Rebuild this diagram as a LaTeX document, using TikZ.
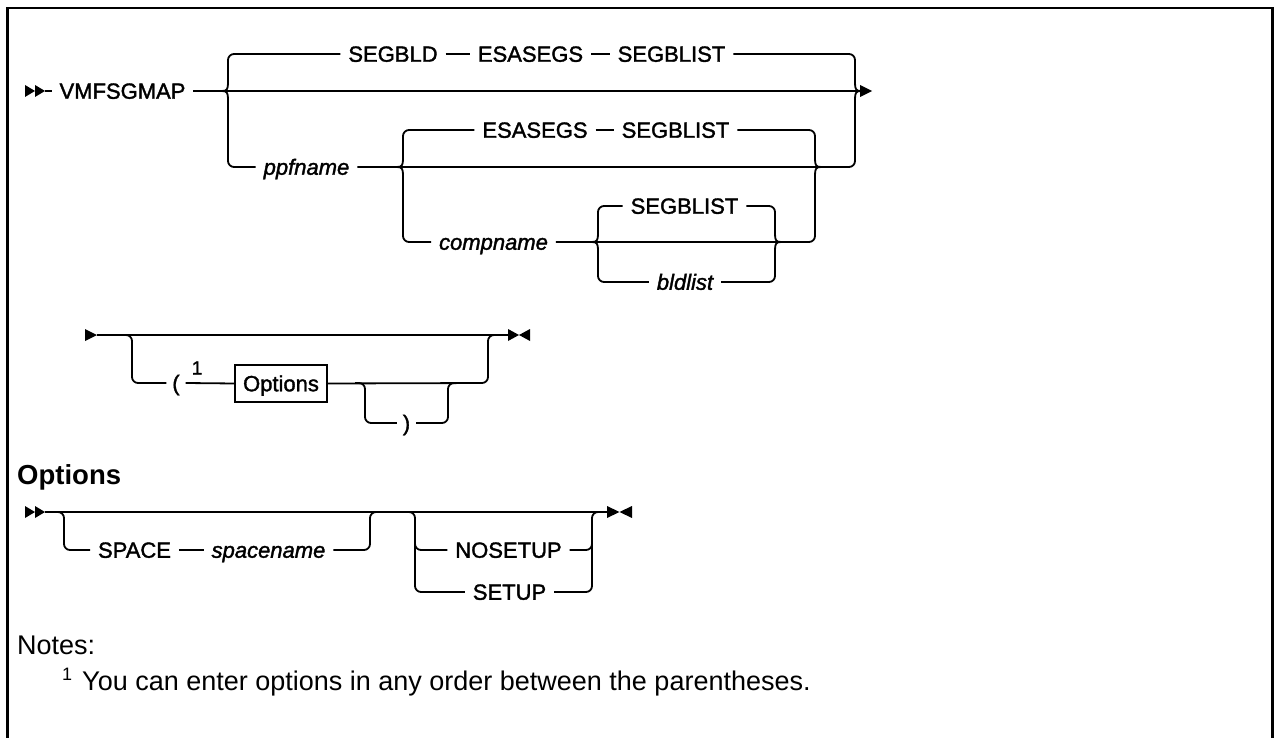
\documentclass[tikz,border=0pt]{standalone}
\usepackage{fontspec}
\setmainfont{Liberation Sans}
\newfontfamily\sdlab{Liberation Sans}[FakeBold=1.6]
\newcommand{\sdforkL}[2]{\draw[line width=1.8pt] (#1,#2-8) .. controls (#1,#2-2) and (#1-1,#2) .. (#1-6,#2) .. controls (#1-1,#2) and (#1,#2+2) .. (#1,#2+8);}
\newcommand{\sdforkR}[2]{\draw[line width=1.8pt] (#1,#2-8) .. controls (#1,#2-2) and (#1+1,#2) .. (#1+6,#2) .. controls (#1+1,#2) and (#1,#2+2) .. (#1,#2+8);}
\tikzset{
  ln/.style={line width=1.8pt, rounded corners=6pt},
  lbl/.style={font=\sdlab\fontsize{22}{25}\selectfont, inner xsep=8pt, inner ysep=0pt, outer sep=0pt, text height=15.5pt, text depth=0pt},
  ital/.style={font=\sdlab\fontsize{22}{25}\selectfont\itshape},
  par/.style={lbl, inner xsep=6pt},
  optbox/.style={draw, line width=1.8pt, minimum width=92pt, minimum height=37pt, inner sep=0pt, outer sep=0pt, font=\sdlab\fontsize{22}{25}\selectfont, text height=15.5pt, text depth=0pt},
  body/.style={font=\fontsize{27}{30}\selectfont, inner sep=0pt, anchor=base west}
}
\begin{document}
\begin{tikzpicture}[x=1pt, y=-1pt]
\useasboundingbox (0,0) rectangle (1274,738);
% frame
\draw[line width=2.5pt] (7.5,738) -- (7.5,8) -- (1272.5,8) -- (1272.5,738);

% ---------- row 1 ----------
\node[lbl] (vmf) at (122.5,91) {VMFSGMAP};
\node[lbl] (segbld) at (393,54) {SEGBLD};
\node[lbl] (esa1) at (530.5,54) {ESASEGS};
\node[lbl] (segbl1) at (671.5,54) {SEGBLIST};
\node[lbl,ital] (ppf) at (306.5,167) {ppfname};
\node[lbl] (esa2) at (535,130) {ESASEGS};
\node[lbl] (segbl2) at (675.5,130) {SEGBLIST};
\node[lbl,ital] (comp) at (493.5,242) {compname};
\node[lbl] (segbl3) at (684.5,206) {SEGBLIST};
\node[lbl,ital] (bld) at (685,282) {bldlist};

\fill (25,85) -- (35,91) -- (25,97) -- cycle;
\fill (35,85) -- (45,91) -- (35,97) -- cycle;
\draw[ln] (45,91) -- (vmf.west);
\draw[ln] (vmf.east) -- (862,91);
\fill (860,85) -- (872,91) -- (860,97) -- cycle;

% L1 / R1
\draw[ln] (228,83) |- (segbld.west);
\draw[ln] (228,99) |- (ppf.west);
\sdforkL{228}{91}
\draw[ln] (segbld.east) -- (esa1.west);
\draw[ln] (esa1.east) -- (segbl1.west);
\draw[ln] (segbl1.east) -| (855,83);
\draw[ln] (ppf.east) -| (855,99);
\sdforkR{855}{91}

% L2 / R2
\draw[ln] (403,159) |- (esa2.west);
\draw[ln] (403,175) |- (comp.west);
\sdforkL{403}{167}
\draw[ln] (esa2.east) -- (segbl2.west);
\draw[ln] (segbl2.east) -| (815,159);
\draw[ln] (comp.east) -| (815,175);
\sdforkR{815}{167}

% L3 / R3
\draw[ln] (598,234) |- (segbl3.west);
\draw[ln] (598,250) |- (bld.west);
\sdforkL{598}{242}
\draw[ln] (segbl3.east) -| (775,234);
\draw[ln] (bld.east) -| (775,250);
\sdforkR{775}{242}

% ---------- row 2 ----------
\node[par] (lp) at (176,383) {(};
\node[font=\sdlab\fontsize{19}{21}\selectfont, inner sep=0pt] (sup1) at (197,368) {1};
\node[optbox] (optb) at (281,383.5) {Options};
\node[par] (rp) at (406.5,423) {)};

\fill (85,329) -- (97,335) -- (85,341) -- cycle;
\draw[ln] (97,335) -- (508,335);
\fill (508,329) -- (519,335) -- (508,341) -- cycle;
\fill (530,329) -- (519,335) -- (530,341) -- cycle;
\draw[ln] (120,335) -- (132,335) -- (132,383) -- (lp.west);
\draw[ln] (lp.east) -- (optb.west);
\draw[ln] (optb.east) -- (488,383) -- (488,335) -- (500,335);
\draw[ln] (355,383) -- (365,383) -- (365,423) -- (rp.west);
\draw[ln] (rp.east) -- (448,423) -- (448,383) -- (458,383);

% ---------- Options ----------
\node[body, font=\fontsize{27.5}{30}\selectfont\bfseries] (ohead) at (17,484) {Options};

\node[lbl] (sp) at (134.5,550) {SPACE};
\node[lbl,ital] (spn) at (268.5,550) {spacename};
\node[lbl] (nos) at (508.5,550) {NOSETUP};
\node[lbl] (setup) at (509.5,592) {SETUP};

\fill (25,506) -- (35,512) -- (25,518) -- cycle;
\fill (35,506) -- (45,512) -- (35,518) -- cycle;
\draw[ln] (45,512) -- (607,512);
\fill (607,506) -- (619.5,512) -- (607,518) -- cycle;
\fill (632,506) -- (619.5,512) -- (632,518) -- cycle;

\draw[ln] (55,512) -- (64,512) -- (64,550) -- (sp.west);
\draw[ln] (sp.east) -- (spn.west);
\draw[ln] (spn.east) -- (370,550) -- (370,512) -- (380,512);

\draw[ln] (405,512) -- (415,512) -- (415,592) -- (setup.west);
\draw[ln] (415,535) |- (nos.west);
\draw[ln] (nos.east) -| (592,535);
\draw[ln] (setup.east) -- (592,592) -- (592,512) -- (602,512);

% ---------- Notes ----------
\node[body] (notes) at (17,654) {Notes:};
\node[body, font=\fontsize{18}{20}\selectfont] (fsup) at (62,680) {1};
\node[body] (fn) at (82,690) {You can enter options in any order between the parentheses.};
\end{tikzpicture}
\end{document}
